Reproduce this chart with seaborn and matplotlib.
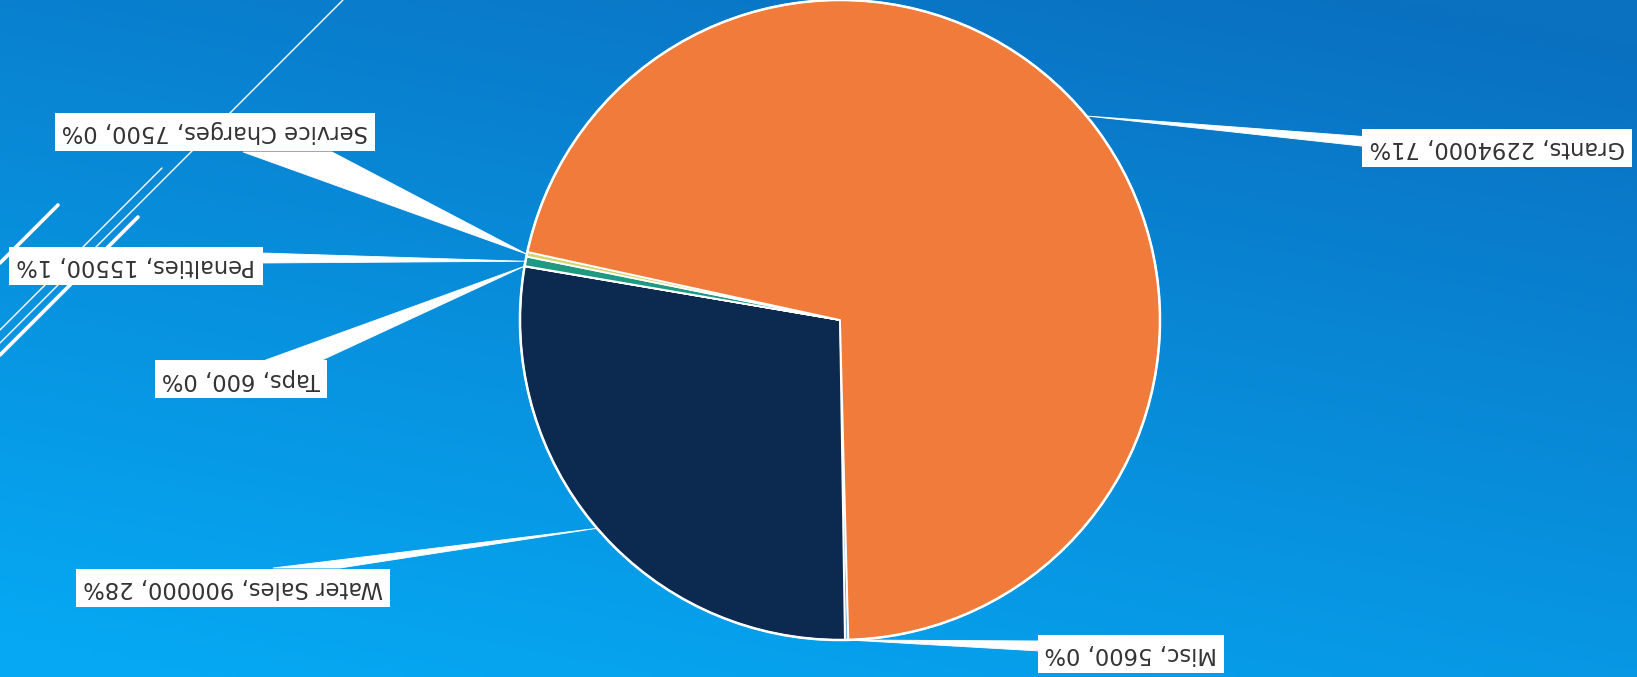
import numpy as np
import matplotlib
matplotlib.use("Agg")
import matplotlib.pyplot as plt
from matplotlib.patches import Polygon, Circle
from matplotlib.colors import to_rgb
import seaborn as sns

# Revenue sources, in the order the slices are laid out
categories = ["Misc", "Water Sales", "Taps", "Penalties", "Service Charges", "Grants"]
revenue = [5600, 900000, 600, 15500, 7500, 2294000]
percent_labels = ["0%", "28%", "0%", "1%", "0%", "71%"]
slice_colors = ["#7fb3d5", "#0c2a4f", "#2a8fa8", "#1f9a80", "#d3d66a", "#f07b3b"]

W, H = 1637, 677
sns.set_theme(style="white")
plt.rcParams["font.family"] = ["DejaVu Sans"]

fig = plt.figure(figsize=(W / 100, H / 100), dpi=100)
ax = fig.add_axes([0, 0, 1, 1])


def fy(y):
    """Convert a top-down pixel row to the y-up axis coordinate."""
    return H - y


# Blue backdrop, darker toward the upper right
gx, gy = np.meshgrid(np.linspace(0, 1, 240), np.linspace(0, 1, 100))
t = np.clip(0.75 * gy + 0.35 * (1 - gx) - 0.05, 0, 1)
dark, light = np.array(to_rgb("#0a70c0"), dtype=float), np.array(to_rgb("#06a8f3"), dtype=float)
grad = dark[None, None, :] * (1 - t[..., None]) + light[None, None, :] * t[..., None]
ax.imshow(grad, extent=(0, W, 0, H), origin="upper", aspect="auto",
          interpolation="bilinear", zorder=0)

# Decorative diagonal strokes on the left
strokes = [((343, 0), (0, 343), 1.0), ((162, 168), (0, 330), 1.0),
           ((138, 217), (0, 355), 2.6), ((58, 205), (0, 263), 2.6)]
for (x0, y0), (x1, y1), lw in strokes:
    ax.plot([x0, x1], [fy(y0), fy(y1)], color="white", lw=lw,
            solid_capstyle="round", zorder=1)

# Pie
cx, cy, r = 840, fy(320), 320
wedges, _ = ax.pie(revenue, colors=slice_colors, startangle=-88.5, counterclock=False,
                   center=(cx, cy), radius=r,
                   wedgeprops=dict(edgecolor="white", linewidth=1.3, zorder=2))
ax.add_patch(Circle((cx, cy), r, fill=False, edgecolor="white", lw=1.8, zorder=2.5))

# Label boxes: centre and the base of each callout pointer
box_centers = [(1131, 654), (233, 588), (241, 379), (136, 266), (215, 132), (1497, 148)]
pointer_bases = [((1040, 641), (1040, 651)), ((273, 568), (340, 568)),
                 ((263, 361), (320, 361)), ((262, 253), (262, 263)),
                 ((243, 152), (332, 152)), ((1370, 137), (1370, 147))]

for w, cat, val, pct, (bx, by), (b1, b2) in zip(wedges, categories, revenue,
                                                 percent_labels, box_centers, pointer_bases):
    mid = np.deg2rad((w.theta1 + w.theta2) / 2)
    apex = (cx + r * np.cos(mid), cy + r * np.sin(mid))
    ax.add_patch(Polygon([(b1[0], fy(b1[1])), (b2[0], fy(b2[1])), apex],
                         closed=True, fc="white", ec="white", lw=0.6, zorder=3))
    ax.text(bx, fy(by), f"{cat}, {val}, {pct}", rotation=180, ha="center", va="center",
            fontsize=16.3, color="#333333", zorder=4,
            bbox=dict(boxstyle="square,pad=0.32", fc="white", ec="none"))

ax.set_xlim(0, W)
ax.set_ylim(0, H)
ax.set_aspect("auto")
ax.axis("off")

fig.savefig("out.png", dpi=100)
